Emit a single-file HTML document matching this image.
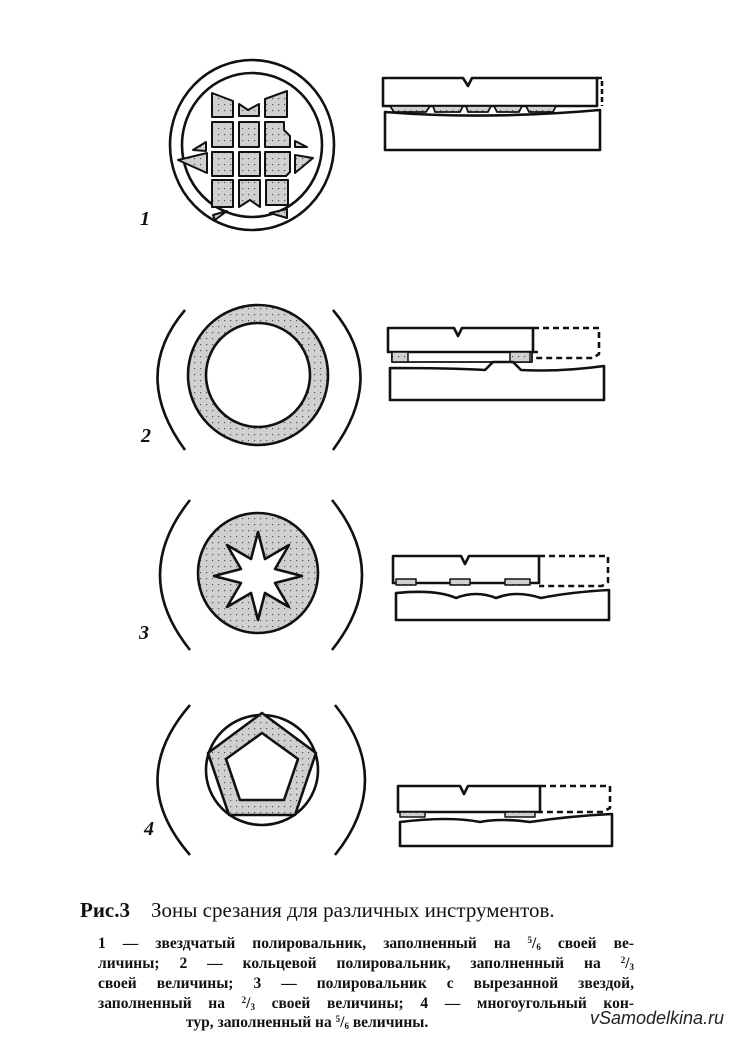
<!DOCTYPE html>
<html><head><meta charset="utf-8"><style>
body{margin:0;background:#fff;width:750px;height:1046px;overflow:hidden}
svg{position:absolute;left:0;top:0}
.cap{position:absolute;font-family:"Liberation Serif",serif;color:#111}
.ln{position:absolute;left:98px;width:536px;font-family:"Liberation Serif",serif;font-size:15.5px;font-weight:bold;color:#111;line-height:16px;height:16px;text-align:justify;text-align-last:justify;white-space:nowrap}
.f{font-size:9px;position:relative;top:-5px}
.g{font-size:9px;position:relative;top:2px}
</style></head><body>
<svg width="750" height="1046" viewBox="0 0 750 1046" fill="none" stroke="#111" stroke-width="2.6" stroke-linejoin="round">
<defs><pattern id="d" width="6" height="6" patternUnits="userSpaceOnUse"><rect width="6" height="6" fill="#d0d0d0" stroke="none"/><rect x="2" y="2" width="1.2" height="1.2" fill="#555" stroke="none"/></pattern></defs>
<!-- Fig 1 -->
<ellipse cx="252" cy="145" rx="82" ry="85"/>
<ellipse cx="252" cy="145" rx="70" ry="72"/>
<g fill="url(#d)" stroke-width="2">
<rect x="212" y="122" width="21" height="25"/><rect x="239" y="122" width="20" height="25"/><path d="M265 122h19v8l6 6v11h-25z"/>
<rect x="212" y="152" width="21" height="24"/><rect x="239" y="152" width="21" height="24"/><path d="M265 152h25v20l-4 4h-21z"/>
<rect x="212" y="180" width="21" height="27"/><path d="M239 180h21v27l-10-7-11 7z"/><rect x="266" y="180" width="22" height="25"/>
<path d="M212 93l21 8v16h-21z"/><path d="M239 104l9 6 11-6v12h-20z"/><path d="M265 99l22-8v26h-22z"/>
<path d="M178 160l29-7v20z"/><path d="M193 150l13-8v9z"/><path d="M295 155l18 3-18 15z"/><path d="M295 141l12 6h-12z"/>
<path d="M213 215l14-4-12 9z"/><path d="M270 213l17-4v9z"/>
</g>
<!-- side 1 -->
<path d="M383 78h80l5 8 4-8h125v28h-214z"/>
<path d="M597 78h5v28" stroke-dasharray="5 3"/>
<g fill="url(#d)" stroke-width="1.8"><path d="M390 106h40l-4 6h-32z"/><path d="M433 106h30l-3 6h-25z"/><path d="M466 106h25l-3 6h-20z"/><path d="M494 106h28l-3 6h-22z"/><path d="M526 106h30l-3 6h-24z"/></g>
<path d="M385 112q100 8 215 -2v40h-215z"/>
<!-- Fig 2 -->
<path d="M185 310q-55 65 0 140M333 310q55 65 0 140"/>
<circle cx="258" cy="375" r="70" fill="url(#d)"/>
<circle cx="258" cy="375" r="52" fill="#fff"/>
<path d="M388 328h66l4 8 4-8h71v24h-145z"/>
<path d="M533 328h66v26l-6 4h-60M533 352h5" stroke-dasharray="6 4"/>
<path d="M392 352h140v10h-140z" stroke-width="1.8"/>
<rect x="392" y="352" width="16" height="10" fill="url(#d)" stroke-width="1.5"/><rect x="510" y="352" width="20" height="10" fill="url(#d)" stroke-width="1.5"/>
<path d="M390 368q60 0 95 2l8 -8h20l8 8q40 2 83 -4v34h-214z"/>
<!-- Fig 3 -->
<path d="M190 500q-60 75 0 150M332 500q60 75 0 150"/>
<circle cx="258" cy="573" r="60" fill="url(#d)"/>
<path d="M258 532l7 27 24-14-14 24 27 7-27 7 14 24-24-14-7 27-7-27-24 14 14-24-27-7 27-7-14-24 24 14z" fill="#fff"/>
<path d="M393 556h68l4 8 4-8h70v27h-146z"/>
<path d="M539 556h69v26l-6 4h-63" stroke-dasharray="6 4"/>
<rect x="396" y="579" width="20" height="6" fill="url(#d)" stroke-width="1.5"/><rect x="450" y="579" width="20" height="6" fill="url(#d)" stroke-width="1.5"/><rect x="505" y="579" width="25" height="6" fill="url(#d)" stroke-width="1.5"/>
<path d="M396 593q40 -4 60 5q20 -8 40 0q20 -8 45 0q30 -6 68 -8v30h-213z"/>
<!-- Fig 4 -->
<path d="M190 705q-65 75 0 150M335 705q60 75 0 150"/>
<ellipse cx="262" cy="770" rx="56" ry="55"/>
<path d="M262 713l54 40-21 62-66 0-21-62z" fill="url(#d)"/>
<path d="M262 733l36 26-14 41-44 0-14-41z" fill="#fff"/>
<path d="M398 786h62l4 8 4-8h72v26h-142z"/>
<path d="M540 786h70v22l-8 4h-62" stroke-dasharray="6 4"/>
<rect x="400" y="812" width="25" height="5" fill="url(#d)" stroke-width="1.5"/><rect x="505" y="812" width="30" height="5" fill="url(#d)" stroke-width="1.5"/>
<path d="M400 822q50 -6 80 0q20 -4 50 0q40 -6 82 -8v32h-212z"/>
</svg>
<div class="cap" style="left:140px;top:208px;font-size:20px;font-style:italic;font-weight:bold">1</div>
<div class="cap" style="left:141px;top:425px;font-size:20px;font-style:italic;font-weight:bold">2</div>
<div class="cap" style="left:139px;top:622px;font-size:20px;font-style:italic;font-weight:bold">3</div>
<div class="cap" style="left:144px;top:818px;font-size:20px;font-style:italic;font-weight:bold">4</div>
<div class="cap" style="left:80px;top:898px;font-size:21px;white-space:nowrap"><b>Рис.3</b>&nbsp;&nbsp;&nbsp;&nbsp;Зоны срезания для различных инструментов.</div>
<div class="ln" style="top:936px">1 — звездчатый полировальник, заполненный на <span class="f">5</span>/<span class="g">6</span> своей ве-</div>
<div class="ln" style="top:956px">личины; 2 — кольцевой полировальник, заполненный на <span class="f">2</span>/<span class="g">3</span></div>
<div class="ln" style="top:976px">своей величины; 3 — полировальник с вырезанной звездой,</div>
<div class="ln" style="top:996px">заполненный на <span class="f">2</span>/<span class="g">3</span> своей величины; 4 — многоугольный кон-</div>
<div class="ln" style="top:1015px;left:186px;width:auto;text-align:left;text-align-last:left">тур, заполненный на <span class="f">5</span>/<span class="g">6</span> величины.</div>
<div class="cap" style="left:590px;top:1008px;font-size:18px;font-style:italic;font-family:'Liberation Sans',sans-serif;color:#222">vSamodelkina.ru</div>
</body></html>
